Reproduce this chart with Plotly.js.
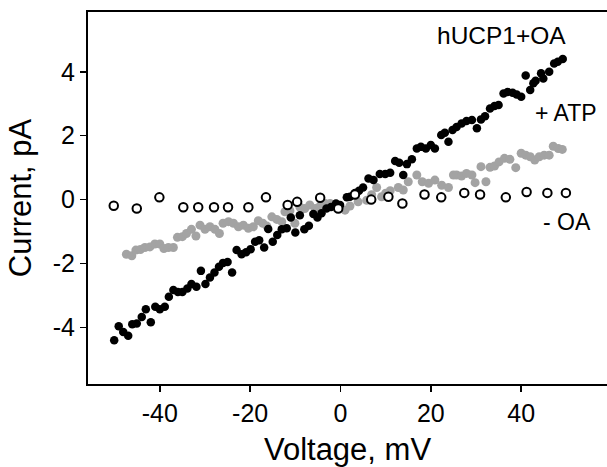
<!DOCTYPE html>
<html>
<head>
<meta charset="utf-8">
<script src="https://cdn.plot.ly/plotly-3.0.1.min.js"></script>
<style>html,body{margin:0;padding:0;background:#fff;}#chart{width:607px;height:467px;}</style>
</head>
<body>
<div id="chart"></div>
<script>
// hUCP1 + OA (black filled)
var oaVoltage = [-50.1,-49.1,-48.1,-47.0,-46.1,-45.1,-44.0,-43.1,-42.0,-41.0,-40.0,-38.9,-38.0,-37.0,-36.0,-35.0,-33.9,-33.0,-31.9,-30.9,-29.9,-28.9,-27.9,-26.9,-26.0,-25.0,-24.0,-23.0,-21.9,-20.9,-19.9,-18.9,-18.0,-16.9,-16.0,-15.0,-14.0,-13.0,-11.9,-11.0,-10.0,-9.0,-8.0,-7.0,-6.0,-5.1,-4.2,-3.1,-2.1,-1.0,-0.1,1.4,2.1,3.2,4.1,5.0,6.2,7.3,8.7,9.9,11.0,12.1,13.0,13.9,14.7,15.8,16.9,17.8,18.9,20.0,20.9,22.3,23.1,23.9,24.8,25.7,26.8,27.9,29.1,30.2,31.1,32.0,33.1,34.1,35.0,36.1,37.0,38.1,39.0,40.0,41.0,42.0,42.7,43.2,44.4,44.9,46.2,47.3,48.1,49.2];
var oaCurrent = [-4.40,-3.96,-4.14,-4.26,-3.90,-3.88,-3.67,-3.43,-3.84,-3.35,-3.43,-3.35,-3.04,-2.83,-2.89,-2.89,-2.78,-2.64,-2.73,-2.23,-2.64,-2.44,-2.28,-2.10,-1.98,-1.95,-2.28,-1.58,-1.71,-1.65,-1.55,-1.32,-1.27,-1.50,-0.92,-1.32,-1.11,-0.93,-0.90,-0.56,-1.03,-0.49,-0.93,-0.82,-0.45,-0.56,-0.43,-0.28,-0.23,-0.12,-0.17,0.07,0.09,0.21,0.28,0.38,0.66,0.61,0.80,0.80,0.84,1.21,1.15,0.77,1.11,1.26,1.60,1.65,1.60,1.71,1.60,2.02,2.09,1.81,2.18,2.27,2.38,2.46,2.49,2.23,2.51,2.61,2.85,2.93,2.96,3.32,3.37,3.34,3.29,3.22,3.88,3.43,3.64,3.72,3.95,3.79,4.00,4.26,4.31,4.40];

// + ATP (grey filled)
var atpVoltage = [-47.4,-46.2,-45.3,-44.3,-43.3,-42.2,-41.1,-40.0,-39.1,-38.1,-37.0,-36.1,-35.0,-34.1,-33.0,-32.0,-31.1,-30.0,-28.9,-27.8,-26.8,-26.0,-24.8,-23.7,-22.6,-21.5,-20.4,-19.3,-18.2,-17.2,-16.3,-15.2,-14.1,-13.0,-12.3,-11.2,-10.1,-9.0,-7.9,-6.8,-5.6,-4.5,-3.4,-2.3,-1.2,-0.1,1.0,2.1,3.9,5.8,6.9,8.0,9.1,10.0,11.0,12.8,13.9,15.0,16.9,18.1,19.5,20.9,22.4,23.9,25.0,25.7,26.8,27.9,29.1,29.8,31.1,32.2,33.1,34.1,35.1,36.3,37.5,38.8,40.0,41.0,42.0,43.0,44.0,45.1,46.2,47.1,48.2,49.1];
var atpCurrent = [-1.71,-1.76,-1.58,-1.56,-1.50,-1.48,-1.39,-1.39,-1.53,-1.50,-1.50,-1.18,-1.16,-1.06,-0.93,-1.14,-0.80,-0.93,-0.85,-0.93,-1.06,-0.74,-0.69,-0.74,-0.85,-0.80,-0.90,-0.85,-0.66,-0.74,-0.83,-0.54,-0.62,-0.69,-0.38,-0.35,-0.74,-0.23,-0.28,-0.17,-0.28,-0.20,-0.12,-0.12,-0.15,-0.25,-0.33,-0.20,-0.07,-0.02,0.15,0.38,0.09,0.20,0.28,0.38,0.30,0.56,0.77,0.56,0.51,0.61,0.45,0.38,0.77,0.77,0.74,0.82,0.77,0.53,1.03,0.56,1.01,1.05,1.18,1.29,1.26,1.00,1.45,1.39,1.34,1.24,1.34,1.39,1.39,1.67,1.60,1.57];

// - OA (open circles)
var noOaVoltage = [-50.2,-45.1,-40.1,-34.8,-31.5,-28.0,-24.9,-20.4,-16.5,-11.7,-9.6,-4.5,-0.5,3.2,6.8,10.6,13.7,18.6,22.3,27.4,30.9,36.6,41.2,45.8,49.9];
var noOaCurrent = [-0.19,-0.28,0.07,-0.24,-0.24,-0.24,-0.24,-0.24,0.07,-0.17,-0.07,0.06,-0.28,0.16,0.00,0.09,-0.12,0.16,0.07,0.21,0.16,0.07,0.24,0.21,0.21];

var xTicks = [-40,-20,0,20,40];
var yTicks = [-4,-2,0,2,4];
var labels = ["hUCP1+OA", "+ ATP", "- OA"];

var FONT = "Liberation Sans, Arial, Helvetica, sans-serif";

var traces = [
  {x: atpVoltage, y: atpCurrent, mode: "markers", type: "scatter",
   marker: {color: "#a3a3a3", size: 9, line: {width: 0}}, hoverinfo: "skip"},
  {x: oaVoltage, y: oaCurrent, mode: "markers", type: "scatter",
   marker: {color: "#000000", size: 8.5, line: {width: 0}}, hoverinfo: "skip"},
  {x: noOaVoltage, y: noOaCurrent, mode: "markers", type: "scatter",
   marker: {color: "#ffffff", size: 8.5, line: {color: "#000000", width: 2}}, hoverinfo: "skip"}
];

var layout = {
  width: 607, height: 467,
  margin: {l: 88, r: 0, t: 12, b: 83},
  paper_bgcolor: "#ffffff", plot_bgcolor: "#ffffff",
  showlegend: false,
  font: {family: FONT, color: "#000"},
  xaxis: {
    range: [-55.9, 59.0], tickvals: xTicks, ticktext: xTicks.map(String),
    showgrid: false, zeroline: false, showline: true, linecolor: "#000", linewidth: 2,
    mirror: true, ticks: "outside", ticklen: 6, tickwidth: 1.5, tickcolor: "#000",
    tickfont: {size: 25, family: FONT, color: "#000"},
    title: {text: "Voltage, mV", font: {size: 31, family: FONT, color: "#000"}, standoff: 12}
  },
  yaxis: {
    range: [-5.77, 5.87], tickvals: yTicks, ticktext: yTicks.map(String),
    showgrid: false, zeroline: false, showline: true, linecolor: "#000", linewidth: 2,
    mirror: false, ticks: "outside", ticklen: 6, tickwidth: 1.5, tickcolor: "#000",
    tickfont: {size: 25, family: FONT, color: "#000"},
    title: {text: "Current, pA", font: {size: 31, family: FONT, color: "#000"}, standoff: 12}
  },
  annotations: [
    {x: 35.7, y: 5.12, xref: "x", yref: "y", text: labels[0], showarrow: false,
     font: {size: 24.5, family: FONT, color: "#000"}},
    {x: 49.9, y: 2.71, xref: "x", yref: "y", text: labels[1], showarrow: false,
     font: {size: 23, family: FONT, color: "#000"}},
    {x: 50.2, y: -0.70, xref: "x", yref: "y", text: labels[2], showarrow: false,
     font: {size: 23, family: FONT, color: "#000"}}
  ]
};

Plotly.newPlot("chart", traces, layout, {staticPlot: true, displayModeBar: false});
</script>
</body>
</html>
